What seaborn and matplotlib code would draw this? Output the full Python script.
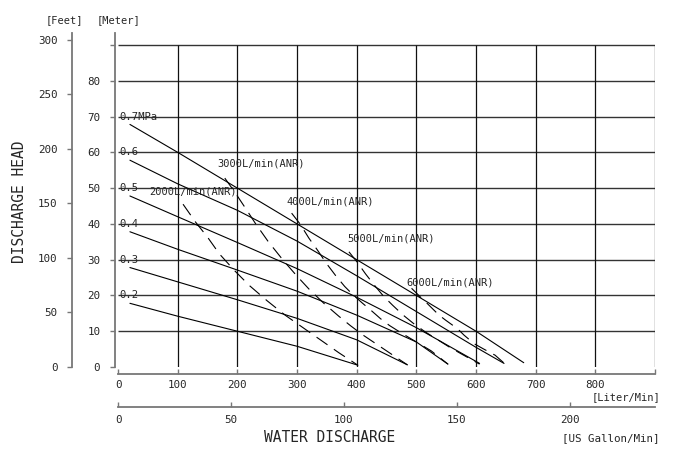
import numpy as np
import pandas as pd
import matplotlib
matplotlib.use("Agg")
import matplotlib.pyplot as plt
import seaborn as sns

# Axis ticks
liter_ticks = [0, 100, 200, 300, 400, 500, 600, 700, 800, 900]
meter_ticks = [0, 10, 20, 30, 40, 50, 60, 70, 80, 90]
feet_ticks = [0, 50, 100, 150, 200, 250, 300]
gallon_ticks = [0, 50, 100, 150, 200]

# Pressure curves (flow L/min, head m)
pressure_labels = ["0.7MPa", "0.6", "0.5", "0.4", "0.3", "0.2"]
p07_flow = [20, 100, 200, 300, 400, 500, 600, 680]
p07_head = [67.8, 60, 50, 40, 30, 20, 10, 1.2]
p06_flow = [20, 100, 200, 300, 400, 500, 600, 647]
p06_head = [57.8, 51.2, 43.8, 35.2, 25.5, 15.5, 5.5, 1.0]
p05_flow = [20, 100, 200, 300, 400, 500, 606]
p05_head = [47.8, 42, 34.8, 27.5, 19.5, 11, 1.0]
p04_flow = [20, 100, 200, 300, 400, 500, 553]
p04_head = [37.8, 32.9, 27.1, 21.2, 14.5, 7.0, 0.8]
p03_flow = [20, 100, 200, 300, 400, 485]
p03_head = [27.8, 23.8, 18.8, 13.6, 7.6, 0.6]
p02_flow = [20, 100, 200, 300, 402]
p02_head = [17.8, 14.2, 10, 5.8, 0.5]

# Air consumption curves
air_labels = ["2000L/min(ANR)", "3000L/min(ANR)", "4000L/min(ANR)",
              "5000L/min(ANR)", "6000L/min(ANR)"]
air2000_flow = [109, 130, 150, 170, 195, 220, 250, 280, 310, 340, 370, 402]
air2000_head = [45.5, 40.5, 36.3, 31.6, 27, 22.8, 18.5, 14.5, 11, 7.5, 4, 0.5]
air3000_flow = [179, 196, 216, 230, 252, 277, 300, 320, 345, 370, 390, 410, 435, 460, 485]
air3000_head = [52.8, 48.8, 43.8, 40.2, 35, 29.8, 25.4, 21.8, 17.8, 14.2, 11.5, 9, 6.2, 3.4, 0.6]
air4000_flow = [291, 305, 320, 335, 350, 365, 380, 395, 410, 425, 440, 455, 475, 500, 525, 553]
air4000_head = [43, 40, 36, 32.5, 28.8, 25.5, 22.5, 20, 17.8, 15.7, 13.5, 11.6, 9.5, 7, 4.5, 0.8]
air5000_flow = [387, 400, 415, 430, 445, 460, 478, 495, 515, 535, 555, 575, 590, 606]
air5000_head = [32.2, 29.5, 26, 22.8, 19.8, 17.3, 14.5, 12.2, 9.8, 7.7, 5.6, 3.7, 2.3, 0.8]
air6000_flow = [492, 509, 518, 538, 549, 569, 580, 597, 612, 632, 647]
air6000_head = [22, 19.2, 17.8, 14.5, 13.1, 10.7, 8.9, 6.5, 5.1, 3.3, 1.1]

# label anchor points (flow, head)
pressure_label_head = [70, 60, 50, 40, 30, 20]
air_label_flow = [52, 167, 282, 385, 483]
air_label_head = [49, 57, 46.2, 35.9, 23.5]

M_TO_FT = 3.28084
L_TO_GAL = 1 / 3.78541

sns.set_style("white")
plt.rcParams['font.family'] = ['DejaVu Sans Mono', 'DejaVu Sans']

fig = plt.figure(figsize=(6.75, 4.51), dpi=100)
W, H = 675, 451
ax = fig.add_axes([118 / W, 1 - 367 / H, 537 / W, 334 / H])
ax.set_xlim(0, 900)
ax.set_ylim(0, 90 * 334 / 322)

# grid
ax.hlines(meter_ticks[1:], 0, liter_ticks[-1], color='#333333', lw=1.0, zorder=1)
ax.vlines(liter_ticks[1:], 0, meter_ticks[-1], color='#111111', lw=0.9, zorder=1)

pressure = [(p07_flow, p07_head), (p06_flow, p06_head), (p05_flow, p05_head),
            (p04_flow, p04_head), (p03_flow, p03_head), (p02_flow, p02_head)]
air = [(air2000_flow, air2000_head), (air3000_flow, air3000_head),
       (air4000_flow, air4000_head), (air5000_flow, air5000_head),
       (air6000_flow, air6000_head)]

for (fl, hd) in pressure:
    sns.lineplot(x=fl, y=hd, ax=ax, color='black', lw=0.8, sort=False,
                 estimator=None, zorder=3)
for (fl, hd) in air:
    sns.lineplot(x=fl, y=hd, ax=ax, color='black', lw=0.8, sort=False,
                 estimator=None, zorder=3, dashes=False,
                 linestyle=(0, (12, 7)))

for lab, hd in zip(pressure_labels, pressure_label_head):
    ax.text(3, hd, lab, fontsize=7.6, va='center', ha='left', zorder=4)
for lab, fl, hd in zip(air_labels, air_label_flow, air_label_head):
    ax.text(fl, hd, lab, fontsize=7.5, va='center', ha='left', zorder=4)

# spines
spine_col = '#777777'
for s in ['top', 'right']:
    ax.spines[s].set_visible(False)
ax.spines['left'].set_position(('outward', 2.2))
ax.spines['bottom'].set_position(('outward', 5))
ax.spines['left'].set_color(spine_col)
ax.spines['bottom'].set_color(spine_col)
ax.spines['left'].set_linewidth(1.3)
ax.spines['bottom'].set_linewidth(1.3)

ax.set_yticks(meter_ticks)
ax.set_yticklabels([str(v) for v in meter_ticks[:-1]] + [''])
ax.set_xticks(liter_ticks)
ax.set_xticklabels([str(v) for v in liter_ticks[:-1]] + [''])
ax.tick_params(axis='y', direction='out', length=3.6, width=1.0, color=spine_col,
               pad=7, labelsize=7.8, left=True)
ax.tick_params(axis='x', direction='in', length=3.6, width=1.0, color=spine_col,
               pad=4, labelsize=7.8, bottom=True)

# feet axis
ax_ft = ax.secondary_yaxis(-46 / 537, functions=(lambda m: m * M_TO_FT,
                                                 lambda f: f / M_TO_FT))
ax_ft.set_yticks(feet_ticks)
ax_ft.spines['left'].set_color(spine_col)
ax_ft.spines['left'].set_linewidth(1.3)
ax_ft.tick_params(direction='out', length=3.6, width=1.0, color=spine_col,
                  pad=7, labelsize=7.8)

# gallon axis
ax_gal = ax.secondary_xaxis(-40 / 334, functions=(lambda l: l * L_TO_GAL,
                                                  lambda g: g / L_TO_GAL))
ax_gal.set_xticks(gallon_ticks)
ax_gal.spines['bottom'].set_color(spine_col)
ax_gal.spines['bottom'].set_linewidth(1.3)
ax_gal.tick_params(direction='in', length=3.6, width=1.0, color=spine_col,
                   pad=6, labelsize=7.8)

# titles and unit labels
fig.text(64 / W, 1 - 20 / H, '[Feet]', fontsize=7.5, ha='center', va='center')
fig.text(119 / W, 1 - 20 / H, '[Meter]', fontsize=7.5, ha='center', va='center')
fig.text(20 / W, 1 - 202 / H, 'DISCHARGE HEAD', fontsize=10.5, rotation=90,
         ha='center', va='center')
fig.text(330 / W, 1 - 438 / H, 'WATER DISCHARGE', fontsize=10.5,
         ha='center', va='center')
fig.text(660 / W, 1 - 397 / H, '[Liter/Min]', fontsize=7.5, ha='right', va='center')
fig.text(660 / W, 1 - 438 / H, '[US Gallon/Min]', fontsize=7.8, ha='right', va='center')

fig.savefig('out.png', dpi=100)
